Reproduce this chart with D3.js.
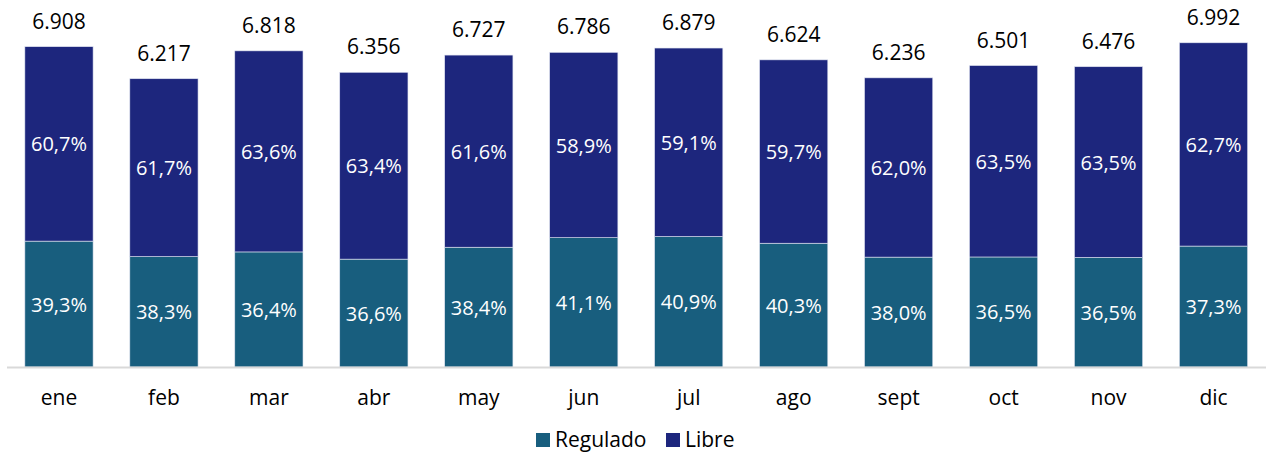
<!DOCTYPE html>
<html>
<head>
<meta charset="utf-8">
<script src="https://cdn.jsdelivr.net/npm/d3@7"></script>
<style>
  body { margin: 0; background: #fff; }
  text { font-family: "Open Sans", sans-serif; }
</style>
</head>
<body>
<div class="chart"></div>
<script>
const months = ["ene", "feb", "mar", "abr", "may", "jun", "jul", "ago", "sept", "oct", "nov", "dic"];
const totals = [6908, 6217, 6818, 6356, 6727, 6786, 6879, 6624, 6236, 6501, 6476, 6992];
const reguladoPct = [39.3, 38.3, 36.4, 36.6, 38.4, 41.1, 40.9, 40.3, 38.0, 36.5, 36.5, 37.3];
const librePct = [60.7, 61.7, 63.6, 63.4, 61.6, 58.9, 59.1, 59.7, 62.0, 63.5, 63.5, 62.7];
const seriesNames = ["Regulado", "Libre"];
const colors = ["#185e7e", "#1d267d"];

const locale = d3.formatLocale({decimal: ",", thousands: ".", grouping: [3], currency: ["", "€"]});
const fmtTotal = locale.format(",d");
const fmtPct = locale.format(".1f");

function renderChart() {
	const width = 1266;
	const height = 452;
	const baseY = 367;

	const rows = months.map((m, i) => ({
		month: m,
		total: totals[i],
		Regulado: totals[i] * reguladoPct[i] / 100,
		Libre: totals[i] * librePct[i] / 100,
		pct: {Regulado: reguladoPct[i], Libre: librePct[i]}
	}));

	const svg = d3.select('.chart')
		.append('svg')
		.attr('width', width)
		.attr('height', height);

	const x = d3.scaleBand()
		.domain(months)
		.range([6.5, 1266])
		.paddingInner(0.35)
		.paddingOuter(0.175);

	const y = d3.scaleLinear()
		.domain([0, 7915])
		.range([baseY, 0]);

	const stacked = d3.stack().keys(seriesNames)(rows);

	const groups = svg.selectAll("g.series")
		.data(stacked)
		.enter()
		.append("g")
		.attr("class", "series")
		.attr("fill", (d, i) => colors[i]);

	groups.selectAll("rect")
		.data(d => d)
		.enter()
		.append("rect")
		.attr("x", d => x(d.data.month))
		.attr("y", d => y(d[1]))
		.attr("width", x.bandwidth())
		.attr("height", d => y(d[0]) - y(d[1]))
		.attr("stroke", "#dfe3f0")
		.attr("stroke-width", 0.6);

	// percentage labels
	stacked.forEach(s => {
		svg.selectAll(null)
			.data(s)
			.enter()
			.append("text")
			.text(d => fmtPct(d.data.pct[s.key]) + "%")
			.attr("x", d => x(d.data.month) + x.bandwidth() / 2)
			.attr("y", d => (y(d[0]) + y(d[1])) / 2 + 7.5)
			.attr("fill", "white")
			.attr("font-size", "20px")
			.attr("text-anchor", "middle");
	});

	// totals on top
	svg.selectAll("text.total")
		.data(rows)
		.enter()
		.append("text")
		.attr("class", "total")
		.text(d => fmtTotal(d.total))
		.attr("x", d => x(d.month) + x.bandwidth() / 2)
		.attr("y", d => y(d.total) - 18)
		.attr("fill", "#000")
		.attr("font-size", "21px")
		.attr("text-anchor", "middle");

	// x axis
	const axis = svg.append("g")
		.attr("transform", `translate(0,${baseY})`)
		.call(d3.axisBottom(x).tickSize(0).tickPadding(23));
	axis.select(".domain").attr("stroke", "#d9d9d9").attr("stroke-width", 2);
	axis.selectAll(".tick text")
		.attr("font-size", "21px")
		.attr("font-family", "Open Sans, sans-serif")
		.attr("fill", "#000");

	// legend
	const legendX = [536, 666];
	const legend = svg.selectAll("g.legend")
		.data(seriesNames)
		.enter()
		.append("g")
		.attr("class", "legend")
		.attr("transform", (d, i) => `translate(${legendX[i]},433)`);
	legend.append("rect")
		.attr("width", 14)
		.attr("height", 14)
		.attr("fill", (d, i) => colors[i]);
	legend.append("text")
		.text(d => d)
		.attr("x", 19)
		.attr("y", 14)
		.attr("font-size", "21px")
		.attr("fill", "#000");
}

renderChart();
</script>
</body>
</html>
